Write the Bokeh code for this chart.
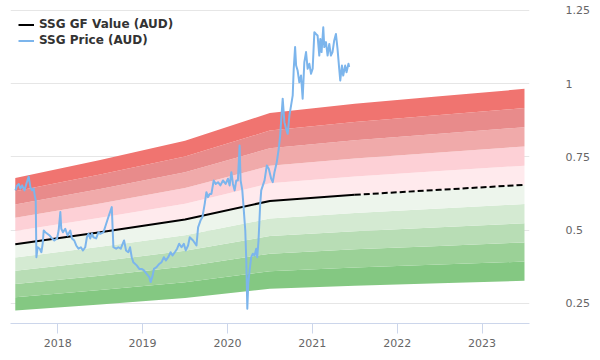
from bokeh.plotting import figure
from bokeh.models import ColumnDataSource, FixedTicker, Range1d, Legend, LegendItem
from bokeh.embed import file_html
from bokeh.resources import INLINE

# ---------------- data ----------------
GF_YEARS = [2017.5, 2018.5, 2019.5, 2020.5, 2021.5, 2022.5, 2023.5]
GF_VALUES = [0.452, 0.493, 0.537, 0.600, 0.621, 0.638, 0.655]
GF_ESTIMATE_FROM = 2021.5

BAND_FACTORS = [0.5, 0.6, 0.7, 0.8, 0.9, 1.0, 1.1, 1.2, 1.3, 1.4, 1.5]
BAND_COLORS = ["#84c882", "#9bd197", "#b8ddb5", "#d4ead2", "#edf5ec",
               "#ffeaed", "#fdd0d6", "#f0aaaa", "#e88b8b", "#f07470"]

PRICE_YEARS = [
    2017.502, 2017.522, 2017.541, 2017.561, 2017.581, 2017.608, 2017.631, 2017.658,
    2017.678, 2017.698, 2017.717, 2017.729, 2017.741, 2017.749, 2017.764, 2017.788,
    2017.808, 2017.823, 2017.835, 2017.854, 2017.874, 2017.905, 2017.933, 2017.960,
    2017.992, 2018.011, 2018.031, 2018.042, 2018.062, 2018.089, 2018.116, 2018.148,
    2018.168, 2018.195, 2018.218, 2018.245, 2018.273, 2018.297, 2018.324, 2018.344,
    2018.363, 2018.383, 2018.403, 2018.421, 2018.453, 2018.480, 2018.500, 2018.539,
    2018.597, 2018.637, 2018.656, 2018.688, 2018.715, 2018.743, 2018.766, 2018.782,
    2018.805, 2018.832, 2018.852, 2018.872, 2018.891, 2018.931, 2018.961, 2018.989,
    2019.016, 2019.048, 2019.079, 2019.095, 2019.119, 2019.134, 2019.165, 2019.196,
    2019.224, 2019.251, 2019.275, 2019.302, 2019.330, 2019.353, 2019.380, 2019.407,
    2019.431, 2019.459, 2019.486, 2019.509, 2019.536, 2019.556, 2019.595, 2019.635,
    2019.654, 2019.682, 2019.705, 2019.732, 2019.752, 2019.771, 2019.791, 2019.811,
    2019.838, 2019.862, 2019.889, 2019.917, 2019.947, 2019.979, 2020.006, 2020.026,
    2020.046, 2020.065, 2020.085, 2020.104, 2020.123, 2020.143, 2020.155, 2020.175,
    2020.190, 2020.210, 2020.222, 2020.234, 2020.245, 2020.261, 2020.280, 2020.299,
    2020.319, 2020.339, 2020.351, 2020.366, 2020.386, 2020.398, 2020.437, 2020.464,
    2020.487, 2020.515, 2020.534, 2020.554, 2020.581, 2020.604, 2020.621, 2020.640,
    2020.651, 2020.671, 2020.691, 2020.710, 2020.730, 2020.750, 2020.769, 2020.781,
    2020.797, 2020.809, 2020.827, 2020.847, 2020.867, 2020.886, 2020.906, 2020.926,
    2020.945, 2020.965, 2020.985, 2021.004, 2021.024, 2021.043, 2021.062, 2021.082,
    2021.094, 2021.109, 2021.129, 2021.141, 2021.161, 2021.180, 2021.200, 2021.219,
    2021.238, 2021.258, 2021.278, 2021.297, 2021.317, 2021.329, 2021.349, 2021.364,
    2021.387, 2021.403, 2021.426, 2021.434,
]
PRICE_VALUES = [
    0.636, 0.653, 0.658, 0.642, 0.653, 0.636, 0.659, 0.683,
    0.647, 0.636, 0.642, 0.619, 0.602, 0.408, 0.442, 0.437,
    0.425, 0.454, 0.499, 0.493, 0.489, 0.482, 0.472, 0.465,
    0.472, 0.499, 0.562, 0.505, 0.493, 0.505, 0.482, 0.499,
    0.472, 0.465, 0.448, 0.437, 0.442, 0.431, 0.442, 0.476,
    0.488, 0.472, 0.489, 0.476, 0.472, 0.493, 0.488, 0.493,
    0.545, 0.579, 0.442, 0.437, 0.442, 0.437, 0.454, 0.465,
    0.431, 0.425, 0.442, 0.408, 0.391, 0.380, 0.368, 0.368,
    0.363, 0.351, 0.340, 0.323, 0.346, 0.368, 0.374, 0.385,
    0.391, 0.408, 0.397, 0.408, 0.425, 0.414, 0.425, 0.437,
    0.454, 0.442, 0.454, 0.431, 0.448, 0.476, 0.465, 0.448,
    0.510, 0.533, 0.545, 0.590, 0.630, 0.613, 0.624, 0.624,
    0.670, 0.658, 0.664, 0.653, 0.670, 0.658, 0.676, 0.653,
    0.698, 0.658, 0.636, 0.670, 0.670, 0.789, 0.670, 0.636,
    0.579, 0.499, 0.397, 0.232, 0.317, 0.363, 0.408, 0.420,
    0.414, 0.437, 0.408, 0.465, 0.590, 0.636, 0.670, 0.721,
    0.710, 0.676, 0.664, 0.698, 0.732, 0.778, 0.823, 0.903,
    0.949, 0.869, 0.846, 0.829, 0.892, 0.926, 0.960, 1.051,
    1.125, 1.062, 1.045, 1.005, 1.028, 0.949, 1.074, 1.108,
    1.051, 1.068, 1.034, 1.051, 1.176, 1.170, 1.165, 1.096,
    1.153, 1.108, 1.193, 1.125, 1.142, 1.096, 1.136, 1.096,
    1.108, 1.148, 1.170, 1.119, 1.051, 1.011, 1.062, 1.028,
    1.062, 1.039, 1.068, 1.057,
]

X_TICKS = [2018, 2019, 2020, 2021, 2022, 2023]
X_TICK_LABELS = ["2018", "2019", "2020", "2021", "2022", "2023"]
Y_TICKS = [0.25, 0.5, 0.75, 1.0, 1.25]
Y_TICK_LABELS = ["0.25", "0.5", "0.75", "1", "1.25"]

SERIES_NAMES = ["SSG GF Value (AUD)", "SSG Price (AUD)"]

FONT = "DejaVu Sans"

# ---------------- figure ----------------
p = figure(
    width=592, height=352,
    output_backend="svg", toolbar_location=None,
    x_range=Range1d(2017.4437, 2023.559),
    y_range=Range1d(0.1817, 1.2534),
    y_axis_location="right",
    min_border_left=10, min_border_right=61, min_border_top=9, min_border_bottom=29,
)
p.outline_line_color = None
p.background_fill_color = "white"
p.border_fill_color = "white"

# bands
band_data = {"x": GF_YEARS}
for i, f in enumerate(BAND_FACTORS):
    band_data["b%d" % i] = [v * f for v in GF_VALUES]
band_src = ColumnDataSource(band_data)
for i, c in enumerate(BAND_COLORS):
    p.varea(x="x", y1="b%d" % i, y2="b%d" % (i + 1), source=band_src,
            fill_color=c, fill_alpha=1.0)

# GF value line: solid (history) + dashed (estimate)
hist_x = [x for x in GF_YEARS if x <= GF_ESTIMATE_FROM]
hist_y = [v for x, v in zip(GF_YEARS, GF_VALUES) if x <= GF_ESTIMATE_FROM]
est_x = [x for x in GF_YEARS if x >= GF_ESTIMATE_FROM]
est_y = [v for x, v in zip(GF_YEARS, GF_VALUES) if x >= GF_ESTIMATE_FROM]
gf_solid = p.line(hist_x, hist_y, line_color="black", line_width=2)
p.line(est_x, est_y, line_color="black", line_width=2, line_dash="6 3")

# price
price = p.line(PRICE_YEARS, PRICE_VALUES, line_color="#7cb5ec", line_width=2,
               line_join="round")

# axes
xa = p.xaxis[0]
xa.ticker = FixedTicker(ticks=X_TICKS)
xa.major_label_overrides = {t: l for t, l in zip(X_TICKS, X_TICK_LABELS)}
xa.axis_line_color = "#ccd6eb"
xa.major_tick_line_color = "#ccd6eb"
xa.major_tick_out = 10
xa.major_tick_in = 0
xa.minor_tick_line_color = None
xa.major_label_text_color = "#666666"
xa.major_label_text_font = FONT
xa.major_label_text_font_size = "11px"
xa.major_label_standoff = 5

ya = p.yaxis[0]
ya.ticker = FixedTicker(ticks=Y_TICKS)
ya.major_label_overrides = {t: l for t, l in zip(Y_TICKS, Y_TICK_LABELS)}
ya.axis_line_color = None
ya.major_tick_line_color = None
ya.minor_tick_line_color = None
ya.major_tick_out = 0
ya.major_tick_in = 0
ya.major_label_text_color = "#666666"
ya.major_label_text_font = FONT
ya.major_label_text_font_size = "11px"
ya.major_label_standoff = 36

p.xgrid.grid_line_color = None
p.ygrid.grid_line_color = "#e6e6e6"
p.ygrid.grid_line_width = 1

legend = Legend(
    items=[LegendItem(label=SERIES_NAMES[0], renderers=[gf_solid]),
           LegendItem(label=SERIES_NAMES[1], renderers=[price])],
    location="top_left",
    margin=8, padding=8, spacing=2,
    glyph_width=16, glyph_height=13, label_height=13, label_standoff=5,
    label_text_font=FONT, label_text_font_size="12px",
    label_text_font_style="bold", label_text_color="#333333",
    background_fill_alpha=0, border_line_color=None,
)
p.add_layout(legend)

open("out.html", "w").write(file_html(p, INLINE))
